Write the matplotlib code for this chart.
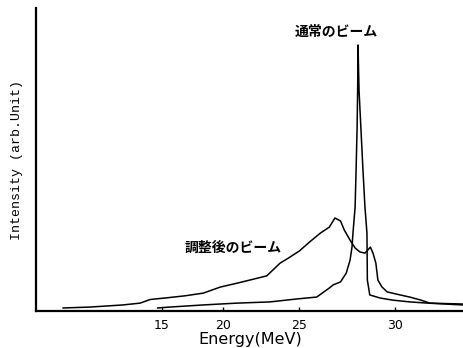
import numpy as np
import matplotlib
matplotlib.use("Agg")
import matplotlib.pyplot as plt

# spectrometer energy axis is not linear: positions follow exp(E / 22.5)
SCALE_E = 22.5

# adjusted beam (調整後のビーム)
adj_energy = [3.4, 7.2, 11.1, 12.9, 13.9, 15.3, 17.0, 18.5, 19.8, 21.2, 23.0,
              23.84, 24.3, 25.0, 25.6, 26.2, 26.7, 27.0, 27.3, 27.5, 27.8,
              28.06, 28.3, 28.56, 28.7, 28.83, 28.96, 29.1, 29.2, 29.4, 29.65,
              30.26, 30.7, 31.2, 31.6, 33.0]
adj_intensity = [1.0, 1.3, 2.0, 2.6, 3.8, 4.3, 5.0, 5.9, 7.9, 9.4, 11.6,
                 15.8, 17.3, 19.8, 22.8, 25.7, 27.7, 30.7, 29.7, 26.7, 23.4,
                 20.8, 19.5, 19.1, 20.1, 21.1, 19.1, 15.8, 10.2, 7.9, 6.3,
                 5.3, 4.6, 3.6, 2.6, 2.3]

# normal beam (通常のビーム)
nrm_energy = [14.6, 15.7, 18.5, 21.0, 23.2, 24.9, 26.0, 26.7, 26.9, 27.3,
              27.6, 27.8, 27.9, 27.95, 28.06, 28.11, 28.16, 28.19, 28.21,
              28.26, 28.36, 28.46, 28.56, 28.66, 28.68, 28.8, 29.3,
              29.9, 30.7, 31.5, 33.0]
nrm_intensity = [1.0, 1.3, 2.0, 2.6, 3.0, 4.0, 4.6, 7.6, 8.6, 9.6,
                 12.5, 16.8, 21.1, 25.7, 34.3, 46.5, 59.7, 72.9, 87.8,
                 72.9, 59.7, 46.5, 34.3, 25.7, 10.2, 5.3, 4.3,
                 3.6, 3.0, 2.6, 2.0]

tick_values = [15, 20, 25, 30]


def fwd(e):
    return np.exp(np.asarray(e) / SCALE_E)


def inv(v):
    return SCALE_E * np.log(np.clip(v, 1e-9, None))


fig = plt.figure(figsize=(4.64, 3.48), dpi=100)
ax = fig.add_axes([36 / 464, 37 / 348, 428 / 464, 303 / 348])

ax.plot(adj_energy, adj_intensity, color="black", linewidth=1.1)
ax.plot(nrm_energy, nrm_intensity, color="black", linewidth=1.1)

ax.set_xscale("function", functions=(fwd, inv))
ax.set_xlim(-1.2, 33.05)
ax.set_ylim(0, 100)

ax.set_xticks(tick_values)
ax.set_xticklabels([str(t) for t in tick_values])
ax.xaxis.set_minor_locator(matplotlib.ticker.NullLocator())
ax.tick_params(axis="x", direction="in", length=3, width=1, pad=6, labelsize=9)
ax.set_yticks([])

for side in ("top", "right"):
    ax.spines[side].set_visible(False)
for side in ("left", "bottom"):
    ax.spines[side].set_linewidth(1.6)

ax.set_xlabel("Energy(MeV)", fontsize=11.5, labelpad=0)
ax.set_ylabel("Intensity (arb.Unit)", family="Liberation Mono", fontsize=9.5,
              labelpad=9)

jp = ["Noto Sans CJK JP", "DejaVu Sans"]
ax.text(0.701, 0.921, "通常のビーム", transform=ax.transAxes, ha="center",
        va="center", fontsize=10, fontweight="bold", family=jp)
ax.text(0.460, 0.208, "調整後のビーム", transform=ax.transAxes, ha="center",
        va="center", fontsize=10, fontweight="bold", family=jp)

fig.savefig("out.png", dpi=100)
